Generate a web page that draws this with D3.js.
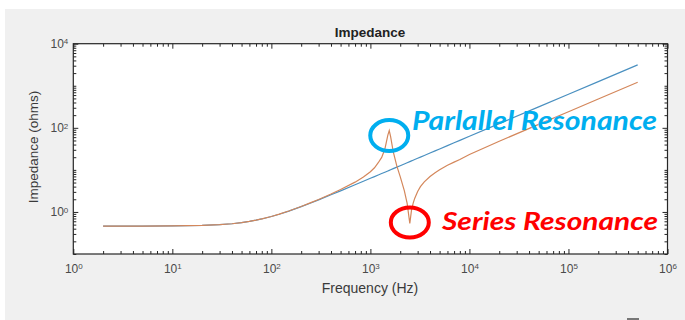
<!DOCTYPE html>
<html>
<head>
<meta charset="utf-8">
<script src="https://cdn.jsdelivr.net/npm/d3@7"></script>
<style>
  html, body { margin: 0; padding: 0; background: #f0f0f0; }
  svg { display: block; }
</style>
</head>
<body>
<svg id="chart" width="685" height="320"></svg>
<script>
// Frequency sweep (Hz)
const freq = [2, 5, 10, 20, 30, 40, 50, 60, 70, 80, 100, 120, 150, 200, 250, 300, 400, 500, 700, 850,
              1000, 1100, 1200, 1300, 1400, 1500, 1550, 1600, 1700, 1850, 2000, 2200, 2350, 2500,
              2600, 2700, 2800, 3000, 3200, 3500, 4000, 4500, 5000, 6000, 7000, 8000, 10000,
              20000, 50000, 100000, 200000, 500000];

// |Z| of the plain R-L branch (ohms)
const zInductive = [0.46, 0.46, 0.464, 0.477, 0.497, 0.524, 0.557, 0.595, 0.636, 0.681, 0.779, 0.883, 1.049, 1.338, 1.637, 1.94, 2.555, 3.175, 4.42, 5.36,
                    6.30, 6.93, 7.55, 8.18, 8.80, 9.43, 9.74, 10.06, 10.68, 11.63, 12.57, 13.82, 14.77, 15.71,
                    16.34, 16.96, 17.59, 18.85, 20.1, 22.0, 25.1, 28.3, 31.4, 37.7, 44.0, 50.3, 62.8,
                    125.7, 314, 628, 1257, 3142];

// |Z| of the network with the LC tank (ohms)
const zResonant = [0.46, 0.46, 0.464, 0.477, 0.497, 0.524, 0.557, 0.595, 0.636, 0.682, 0.78, 0.886, 1.053, 1.35, 1.662, 1.98, 2.66, 3.40, 5.11, 6.77,
                   9.05, 11.2, 14.8, 19.8, 31.3, 67, 86, 62, 27, 12.3, 6.9, 3.2, 1.6, 0.53,
                   1.1, 1.6, 2.1, 3.05, 3.98, 5.17, 6.95, 8.55, 10.05, 12.85, 15.3, 17.6, 23.2,
                   47.9, 120.8, 241.7, 483.7, 1209];

// Axis ticks
const xMajor = [1, 10, 100, 1000, 1e4, 1e5, 1e6];
const yMajor = [1, 100, 1e4];
const xMinor = [];
for (let p = 0; p < 6; p++) for (let m = 2; m <= 9; m++) xMinor.push(m * Math.pow(10, p));
const yMinor = [];
for (let p = -1; p < 4; p++) for (let m = 1; m <= 9; m++) {
  const v = m * Math.pow(10, p);
  if (!yMajor.includes(v)) yMinor.push(v);
}

const titleText = "Impedance";
const xLabelText = "Frequency (Hz)";
const yLabelText = "Impedance (ohms)";
const parallelLabel = "Parlallel Resonance";
const seriesLabel = "Series Resonance";

const svg = d3.select("#chart");
const W = 685, H = 320;
const plot = { left: 73.3, right: 667.5, top: 43.7, bottom: 254 };

// Figure background
svg.append("rect").attr("x", 0).attr("y", 0).attr("width", W).attr("height", H).attr("fill", "#f0f0f0");
svg.append("rect").attr("x", 0).attr("y", 0).attr("width", W).attr("height", 9).attr("fill", "#ffffff");
svg.append("rect").attr("x", 0).attr("y", 0).attr("width", 5).attr("height", H).attr("fill", "#ffffff");
svg.append("rect").attr("x", 627).attr("y", 318).attr("width", 12).attr("height", 2).attr("fill", "#777");

// Axes background
svg.append("rect")
  .attr("x", plot.left).attr("y", plot.top)
  .attr("width", plot.right - plot.left).attr("height", plot.bottom - plot.top)
  .attr("fill", "#ffffff");

const x = d3.scaleLog().domain([1, 1e6]).range([plot.left, plot.right]);
const y = d3.scaleLog().domain([0.1, 1e4]).range([plot.bottom, plot.top]);

const axisColor = "#262626";
const labelColor = "#4a4a4a";
const font = "'Liberation Sans', Arial, Helvetica, sans-serif";

function powerLabel(sel) {
  sel.each(function (d) {
    const t = d3.select(this);
    const e = Math.round(Math.log10(d));
    t.text("10");
    t.append("tspan").attr("dy", "-0.45em").attr("font-size", "8px").text(e);
  });
}

function styleAxis(g) {
  g.select(".domain").remove();
  g.selectAll("line").attr("stroke", axisColor).attr("stroke-width", 1);
  g.selectAll("text").attr("fill", labelColor).attr("font-family", font).attr("font-size", "12px");
}

// Bottom axis (labelled) + minor ticks
svg.append("g").attr("transform", `translate(0,${plot.bottom})`)
  .call(d3.axisBottom(x).tickValues(xMajor).tickSizeInner(-5).tickSizeOuter(0).tickPadding(10.5).tickFormat(() => ""))
  .call(styleAxis)
  .selectAll(".tick text").call(powerLabel);
svg.append("g").attr("transform", `translate(0,${plot.bottom})`)
  .call(d3.axisBottom(x).tickValues(xMinor).tickSizeInner(-3).tickSizeOuter(0).tickFormat(() => ""))
  .call(styleAxis);

// Top axis ticks
svg.append("g").attr("transform", `translate(0,${plot.top})`)
  .call(d3.axisTop(x).tickValues(xMajor).tickSizeInner(-5).tickSizeOuter(0).tickFormat(() => ""))
  .call(styleAxis);
svg.append("g").attr("transform", `translate(0,${plot.top})`)
  .call(d3.axisTop(x).tickValues(xMinor).tickSizeInner(-3).tickSizeOuter(0).tickFormat(() => ""))
  .call(styleAxis);

// Left axis (labelled) + minor ticks
svg.append("g").attr("transform", `translate(${plot.left},0)`)
  .call(d3.axisLeft(y).tickValues(yMajor).tickSizeInner(-5).tickSizeOuter(0).tickPadding(5).tickFormat(() => ""))
  .call(styleAxis)
  .selectAll(".tick text").call(powerLabel);
svg.append("g").attr("transform", `translate(${plot.left},0)`)
  .call(d3.axisLeft(y).tickValues(yMinor).tickSizeInner(-3).tickSizeOuter(0).tickFormat(() => ""))
  .call(styleAxis);

// Right axis ticks
svg.append("g").attr("transform", `translate(${plot.right},0)`)
  .call(d3.axisRight(y).tickValues(yMajor).tickSizeInner(-5).tickSizeOuter(0).tickFormat(() => ""))
  .call(styleAxis);
svg.append("g").attr("transform", `translate(${plot.right},0)`)
  .call(d3.axisRight(y).tickValues(yMinor).tickSizeInner(-3).tickSizeOuter(0).tickFormat(() => ""))
  .call(styleAxis);

// Box
svg.append("rect")
  .attr("x", plot.left).attr("y", plot.top)
  .attr("width", plot.right - plot.left).attr("height", plot.bottom - plot.top)
  .attr("fill", "none").attr("stroke", axisColor).attr("stroke-width", 1.2);

// Curves
const line = (vals) => d3.line().x((d, i) => x(freq[i])).y((d) => y(d))(vals);
svg.append("path").attr("d", line(zInductive))
  .attr("fill", "none").attr("stroke", "#4a90c0").attr("stroke-width", 1.2);
svg.append("path").attr("d", line(zResonant))
  .attr("fill", "none").attr("stroke", "#d4875b").attr("stroke-width", 1.2);

// Title and axis labels
svg.append("text").attr("x", 370).attr("y", 37).attr("text-anchor", "middle")
  .attr("font-family", font).attr("font-weight", "bold").attr("font-size", "13.5px").attr("fill", "#222")
  .text(titleText);
svg.append("text").attr("x", 370).attr("y", 292.5).attr("text-anchor", "middle")
  .attr("font-family", font).attr("font-size", "14px").attr("fill", "#3a3a3a")
  .text(xLabelText);
svg.append("text").attr("transform", "translate(38,147) rotate(-90)").attr("text-anchor", "middle")
  .attr("font-family", font).attr("font-size", "13.5px").attr("fill", "#3a3a3a")
  .text(yLabelText);

// Resonance callouts, placed on the curve's peak and dip
const inRange = (lo, hi) => freq.map((f, i) => i).filter(i => freq[i] >= lo && freq[i] <= hi);
const peakIdx = d3.greatest(inRange(1000, 2000), i => zResonant[i]);
const dipIdx = d3.least(inRange(2000, 4000), i => zResonant[i]);

svg.append("ellipse")
  .attr("cx", x(freq[peakIdx])).attr("cy", y(zResonant[peakIdx]) + 5)
  .attr("rx", 19).attr("ry", 15.5)
  .attr("fill", "none").attr("stroke", "#00aeef").attr("stroke-width", 4);
svg.append("text").attr("x", 412).attr("y", 129.5)
  .attr("font-family", "Lato, 'Open Sans', sans-serif").attr("font-weight", "bold").attr("font-style", "italic")
  .attr("font-size", "26px").attr("fill", "#00aeef")
  .attr("textLength", 245).attr("lengthAdjust", "spacingAndGlyphs")
  .text(parallelLabel);

svg.append("ellipse")
  .attr("cx", x(freq[dipIdx])).attr("cy", y(zResonant[dipIdx]) - 1)
  .attr("rx", 19).attr("ry", 15)
  .attr("fill", "none").attr("stroke", "#ff0000").attr("stroke-width", 4);
svg.append("text").attr("x", 442).attr("y", 230)
  .attr("font-family", "Lato, 'Open Sans', sans-serif").attr("font-weight", "bold").attr("font-style", "italic")
  .attr("font-size", "24px").attr("fill", "#ff0000")
  .attr("textLength", 216).attr("lengthAdjust", "spacingAndGlyphs")
  .text(seriesLabel);
</script>
</body>
</html>
